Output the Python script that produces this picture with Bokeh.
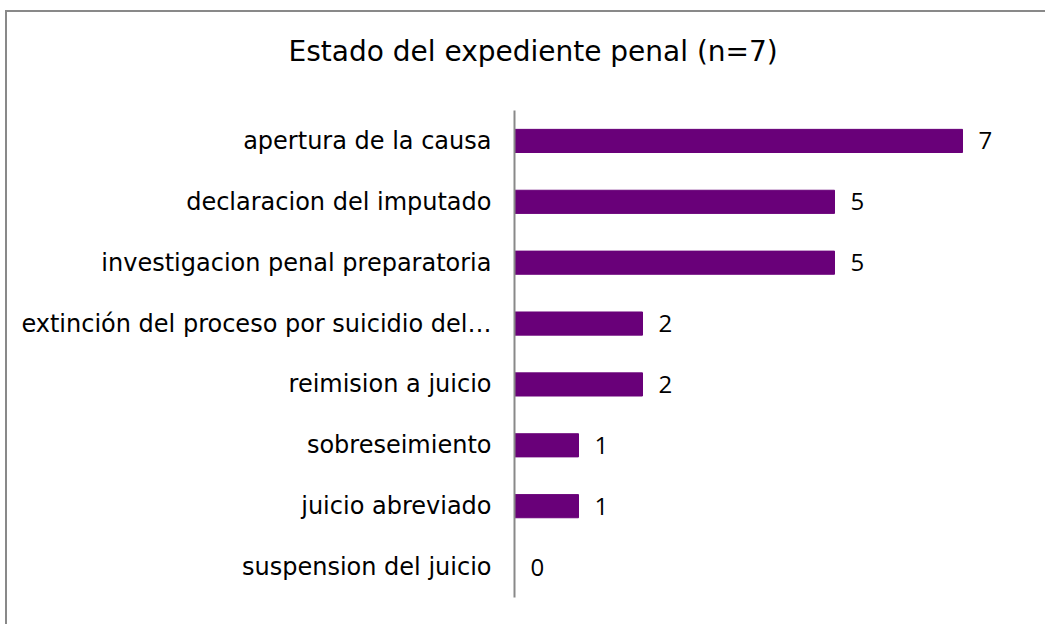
from bokeh.plotting import figure
from bokeh.models import ColumnDataSource, FactorRange, Range1d, Title
from bokeh.core.properties import value
from bokeh.embed import file_html
from bokeh.resources import INLINE

categories = [
    "apertura de la causa",
    "declaracion del imputado",
    "investigacion penal preparatoria",
    "extinción del proceso por suicidio del…",
    "reimision a juicio",
    "sobreseimiento",
    "juicio abreviado",
    "suspension del juicio",
]
counts = [7, 5, 5, 2, 2, 1, 1, 0]
title_text = "Estado del expediente penal (n=7)"

BAR = "#690079"
AXIS = "#898989"
LABEL_FONT = "DejaVu Sans"
VALUE_FONT = "Open Sans"

source = ColumnDataSource(dict(cat=categories, val=counts, txt=[str(v) for v in counts]))

p = figure(
    y_range=FactorRange(*list(reversed(categories))),
    x_range=Range1d(0, 8),
    frame_width=512,
    frame_height=487,
    min_border_left=507,
    min_border_right=19,
    min_border_top=98,
    min_border_bottom=27,
    output_backend="svg",
    toolbar_location=None,
    styles={
        "border-left": f"2px solid {AXIS}",
        "border-top": f"2px solid {AXIS}",
        "position": "relative",
        "left": "5px",
        "top": "10px",
    },
)
p.title = None
spacer = Title(text=" ", text_font_size="1px", standoff=40)
p.add_layout(spacer, "above")
main_title = Title(text=title_text, align="left", vertical_align="bottom", text_font=LABEL_FONT,
                   text_font_size="28px", text_font_style="normal", text_color="#000000",
                   offset=-226, standoff=0)
p.add_layout(main_title, "above")

p.hbar(y="cat", right="val", left=0, height=0.38, color=BAR, source=source)
p.text(x="val", y="cat", text="txt", source=source, x_offset=16,
       text_align="left", text_baseline="middle", text_font=value(VALUE_FONT),
       text_font_size="24px", text_color="#000000")

p.xaxis.visible = False
p.xgrid.visible = False
p.ygrid.visible = False
p.outline_line_color = None

ax = p.yaxis[0]
ax.axis_line_color = AXIS
ax.axis_line_width = 2
ax.major_tick_line_color = None
ax.minor_tick_line_color = None
ax.major_tick_in = 0
ax.major_tick_out = 0
ax.major_label_standoff = 23
ax.major_label_text_font = LABEL_FONT
ax.major_label_text_font_size = "24px"
ax.major_label_text_color = "#000000"

open("out.html", "w").write(file_html(p, INLINE))
